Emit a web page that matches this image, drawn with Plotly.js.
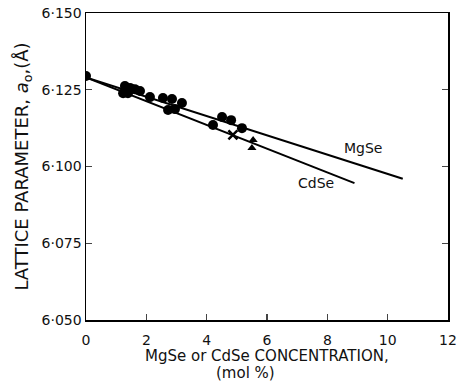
<!DOCTYPE html>
<html>
<head>
<meta charset="utf-8">
<script src="https://cdn.plot.ly/plotly-3.0.1.min.js"></script>
<style>html,body{margin:0;padding:0;background:#fff;}#chart{width:457px;height:386px;}</style>
</head>
<body>
<div id="chart"></div>
<script>
// Measured lattice parameters (mol % vs Å)
const dotX = [0, 1.29, 1.46, 1.62, 1.79, 1.23, 1.39, 2.12, 2.55, 2.85, 2.72, 2.95, 3.18, 4.51, 4.81, 4.21, 5.17];
const dotY = [6.1295, 6.1262, 6.1256, 6.1252, 6.1246, 6.1239, 6.1239, 6.1226, 6.1223, 6.1220, 6.1184, 6.1187, 6.1207, 6.1161, 6.1151, 6.1135, 6.1125];
const crossX = [4.87];
const crossY = [6.1103];
const triX = [5.54, 5.50];
const triY = [6.1086, 6.1060];

// Fitted trend lines
const mgseX = [0, 10.5];
const mgseY = [6.129, 6.096];
const cdseX = [0, 8.9];
const cdseY = [6.129, 6.0946];

const xTicks = [0, 2, 4, 6, 8, 10, 12];
const yTicks = [6.050, 6.075, 6.100, 6.125, 6.150];
const yTickText = ['6·050', '6·075', '6·100', '6·125', '6·150'];

const font = {family: 'DejaVu Sans, sans-serif', size: 14, color: '#111'};

const traces = [
  {x: mgseX, y: mgseY, mode: 'lines', line: {color: '#000', width: 2}, hoverinfo: 'skip'},
  {x: cdseX, y: cdseY, mode: 'lines', line: {color: '#000', width: 2}, hoverinfo: 'skip'},
  {x: dotX, y: dotY, mode: 'markers', marker: {symbol: 'circle', size: 10, color: '#000'}},
  {x: crossX, y: crossY, mode: 'markers', marker: {symbol: 'x-thin', size: 9, line: {color: '#000', width: 2.5}}},
  {x: triX, y: triY, mode: 'markers', marker: {symbol: 'triangle-up', size: 8, color: '#000'}}
];

const layout = {
  width: 457, height: 386,
  margin: {l: 86, r: 9, t: 13, b: 66},
  paper_bgcolor: '#fff', plot_bgcolor: '#fff',
  showlegend: false,
  font: font,
  xaxis: {
    range: [0, 12], tickvals: xTicks, ticks: 'inside', ticklen: 6, tickwidth: 1.2,
    showline: true, linecolor: '#000', linewidth: 1.5, mirror: true,
    showgrid: false, zeroline: false, tickfont: font, ticklabelstandoff: 7
  },
  yaxis: {
    range: [6.050, 6.150], tickvals: yTicks, ticktext: yTickText,
    ticks: 'inside', ticklen: 6, tickwidth: 1.2,
    showline: true, linecolor: '#000', linewidth: 1.5, mirror: 'ticks',
    showgrid: false, zeroline: false, tickfont: font,
    title: {text: 'LATTICE PARAMETER, <i>a</i><sub>o</sub>,(Å)', font: {family: font.family, size: 18, color: '#111'}, standoff: 8}
  },
  annotations: [
    {x: 9.18, y: 6.106, xref: 'x', yref: 'y', text: 'MgSe', showarrow: false, font: font},
    {x: 7.62, y: 6.0946, xref: 'x', yref: 'y', text: 'CdSe', showarrow: false, font: font},
    {x: 0.5, y: -0.117, xref: 'paper', yref: 'paper', yanchor: 'middle', text: 'MgSe or CdSe CONCENTRATION,', showarrow: false, font: {family: font.family, size: 15, color: '#111'}},
    {x: 0.44, y: -0.172, xref: 'paper', yref: 'paper', yanchor: 'middle', text: '(mol %)', showarrow: false, font: {family: font.family, size: 15, color: '#111'}}
  ]
};

Plotly.newPlot('chart', traces, layout, {staticPlot: true, displayModeBar: false});
</script>
</body>
</html>
